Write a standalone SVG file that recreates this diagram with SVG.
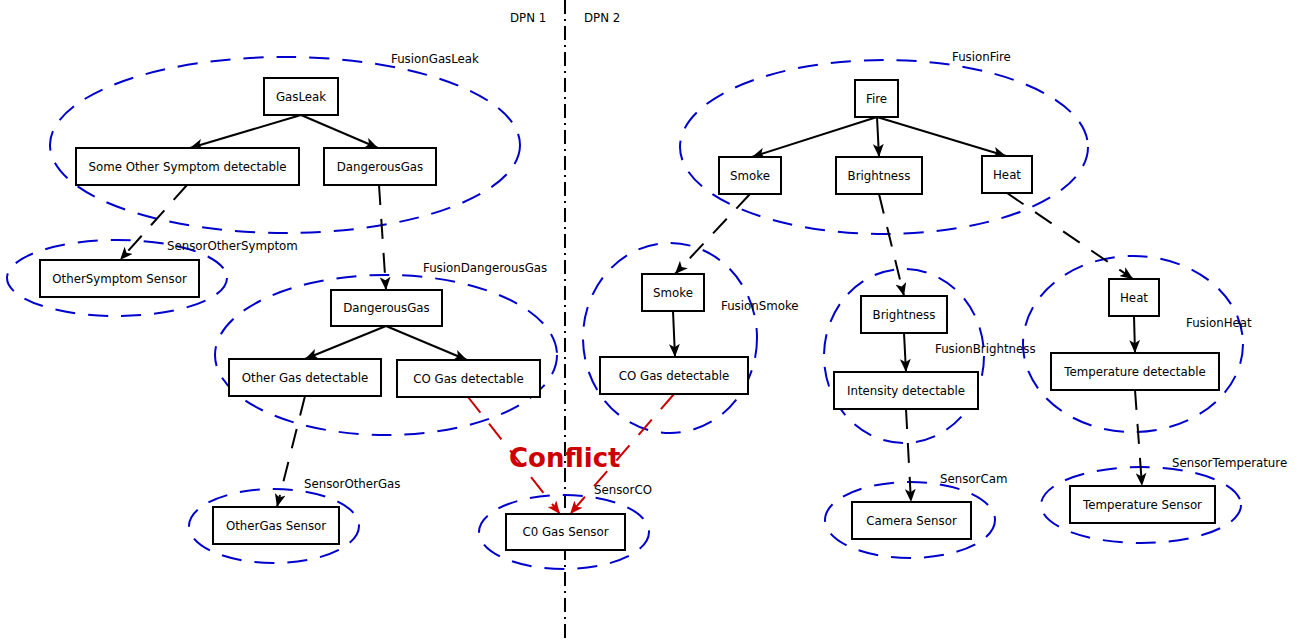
<svg xmlns="http://www.w3.org/2000/svg" width="1303" height="643" viewBox="0 0 1303 643">
<style>
.bg{fill:#ffffff}
.box{fill:#ffffff;stroke:#000;stroke-width:2}
.t{font-family:"DejaVu Sans",sans-serif;font-size:11.8px;fill:#000}
.c{text-anchor:middle}
.ell{fill:none;stroke:#0000cc;stroke-width:2;stroke-dasharray:20,13}
.solid{fill:none;stroke:#000;stroke-width:2;marker-end:url(#ah)}
.dash{fill:none;stroke:#000;stroke-width:2;stroke-dasharray:20,14;marker-end:url(#ah)}
.red{fill:none;stroke:#cc0000;stroke-width:2;stroke-dasharray:20,14;marker-end:url(#ahr)}
.sep{fill:none;stroke:#000;stroke-width:2;stroke-dasharray:14,5,2,5}
</style>
<defs>
<marker id="ah" viewBox="0 0 12 10" refX="12" refY="5" markerWidth="13" markerHeight="11" orient="auto" markerUnits="userSpaceOnUse">
<path d="M0,0 L12,5 L0,10 L3,5 Z" fill="#000"/>
</marker>
<marker id="ahr" viewBox="0 0 12 10" refX="12" refY="5" markerWidth="13" markerHeight="11" orient="auto" markerUnits="userSpaceOnUse">
<path d="M0,0 L12,5 L0,10 L3,5 Z" fill="#cc0000"/>
</marker>
</defs>
<rect class="bg" x="0" y="0" width="1303" height="643"/>
<line class="sep" x1="565" y1="0" x2="565" y2="643"/>
<text class="t" x="510" y="22">DPN 1</text>
<text class="t" x="584" y="22">DPN 2</text>

<g id="clusters">
<ellipse class="ell" cx="285" cy="145" rx="235" ry="88"/>
<text class="t" x="391" y="63">FusionGasLeak</text>
<ellipse class="ell" cx="117" cy="278" rx="110" ry="38"/>
<text class="t" x="167" y="250">SensorOtherSymptom</text>
<ellipse class="ell" cx="386" cy="355" rx="171" ry="80"/>
<text class="t" x="423" y="272">FusionDangerousGas</text>
<ellipse class="ell" cx="274" cy="526" rx="85" ry="37"/>
<text class="t" x="304" y="488">SensorOtherGas</text>
<ellipse class="ell" cx="564" cy="532" rx="85" ry="37"/>
<text class="t" x="594" y="494">SensorCO</text>
<ellipse class="ell" cx="884" cy="147" rx="204" ry="87"/>
<text class="t" x="952" y="61">FusionFire</text>
<ellipse class="ell" cx="670" cy="338" rx="87" ry="95"/>
<text class="t" x="721" y="310">FusionSmoke</text>
<ellipse class="ell" cx="904" cy="356" rx="80" ry="87"/>
<text class="t" x="935" y="353">FusionBrightness</text>
<ellipse class="ell" cx="1133" cy="344" rx="110" ry="88"/>
<text class="t" x="1186" y="327">FusionHeat</text>
<ellipse class="ell" cx="910" cy="520" rx="85" ry="38"/>
<text class="t" x="940" y="483">SensorCam</text>
<ellipse class="ell" cx="1141" cy="505" rx="100" ry="38"/>
<text class="t" x="1172" y="467">SensorTemperature</text>
</g>

<g id="connectors">
<line class="solid" x1="301" y1="115" x2="190" y2="148"/>
<line class="solid" x1="301" y1="115" x2="378" y2="148"/>
<line class="solid" x1="386" y1="326" x2="305" y2="359"/>
<line class="solid" x1="386" y1="326" x2="467" y2="360"/>
<line class="solid" x1="877" y1="117" x2="752" y2="157"/>
<line class="solid" x1="877" y1="117" x2="879" y2="157"/>
<line class="solid" x1="877" y1="117" x2="1006" y2="156"/>
<line class="solid" x1="673" y1="311" x2="675" y2="357"/>
<line class="solid" x1="904" y1="333" x2="906" y2="372"/>
<line class="solid" x1="1134" y1="316" x2="1135" y2="353"/>
<line class="dash" x1="187" y1="185" x2="120" y2="260"/>
<line class="dash" x1="379" y1="185" x2="386" y2="290"/>
<line class="dash" x1="305" y1="396" x2="277" y2="507"/>
<line class="dash" x1="750" y1="194" x2="675" y2="274"/>
<line class="dash" x1="879" y1="194" x2="904" y2="296"/>
<line class="dash" x1="1007" y1="193" x2="1133" y2="279"/>
<line class="dash" x1="906" y1="409" x2="911" y2="502"/>
<line class="dash" x1="1135" y1="390" x2="1142" y2="486"/>
<line class="red" x1="468" y1="397" x2="560" y2="514"/>
<line class="red" x1="674" y1="394" x2="570" y2="514"/>
</g>

<g id="n-gasleak"><rect class="box" x="264" y="78" width="74" height="37"/><text class="t c" x="301" y="100.5">GasLeak</text></g>
<g id="n-someother"><rect class="box" x="76" y="148" width="223" height="37"/><text class="t c" x="187.5" y="170.5">Some Other Symptom detectable</text></g>
<g id="n-dangerous1"><rect class="box" x="324" y="148" width="112" height="37"/><text class="t c" x="380" y="170.5">DangerousGas</text></g>
<g id="n-othersymptomsensor"><rect class="box" x="40" y="260" width="159" height="37"/><text class="t c" x="119.5" y="282.5">OtherSymptom Sensor</text></g>
<g id="n-dangerous2"><rect class="box" x="331" y="290" width="111" height="36"/><text class="t c" x="386.5" y="312">DangerousGas</text></g>
<g id="n-othergas"><rect class="box" x="229" y="359" width="152" height="37"/><text class="t c" x="305" y="381.5">Other Gas detectable</text></g>
<g id="n-cogas1"><rect class="box" x="397" y="360" width="143" height="37"/><text class="t c" x="468.5" y="382.5">CO Gas detectable</text></g>
<g id="n-othergassensor"><rect class="box" x="213" y="507" width="126" height="37"/><text class="t c" x="276" y="529.5">OtherGas Sensor</text></g>
<g id="n-cogassensor"><rect class="box" x="506" y="514" width="119" height="36"/><text class="t c" x="565.5" y="536">C0 Gas Sensor</text></g>
<g id="n-fire"><rect class="box" x="855" y="80" width="43" height="37"/><text class="t c" x="876.5" y="102.5">Fire</text></g>
<g id="n-smoke1"><rect class="box" x="719" y="157" width="62" height="37"/><text class="t c" x="750" y="179.5">Smoke</text></g>
<g id="n-bright1"><rect class="box" x="836" y="157" width="86" height="37"/><text class="t c" x="879" y="179.5">Brightness</text></g>
<g id="n-heat1"><rect class="box" x="982" y="156" width="50" height="37"/><text class="t c" x="1007" y="178.5">Heat</text></g>
<g id="n-smoke2"><rect class="box" x="642" y="274" width="62" height="37"/><text class="t c" x="673" y="296.5">Smoke</text></g>
<g id="n-cogas2"><rect class="box" x="600" y="357" width="148" height="37"/><text class="t c" x="674" y="379.5">CO Gas detectable</text></g>
<g id="n-bright2"><rect class="box" x="861" y="296" width="86" height="37"/><text class="t c" x="904" y="318.5">Brightness</text></g>
<g id="n-intensity"><rect class="box" x="834" y="372" width="144" height="37"/><text class="t c" x="906" y="394.5">Intensity detectable</text></g>
<g id="n-heat2"><rect class="box" x="1109" y="279" width="50" height="37"/><text class="t c" x="1134" y="301.5">Heat</text></g>
<g id="n-tempdet"><rect class="box" x="1051" y="353" width="168" height="37"/><text class="t c" x="1135" y="375.5">Temperature detectable</text></g>
<g id="n-camera"><rect class="box" x="852" y="502" width="119" height="37"/><text class="t c" x="911.5" y="524.5">Camera Sensor</text></g>
<g id="n-tempsensor"><rect class="box" x="1070" y="486" width="145" height="37"/><text class="t c" x="1142.5" y="508.5">Temperature Sensor</text></g>

<text x="509" y="467" font-family="DejaVu Sans, sans-serif" font-size="26" font-weight="bold" fill="#cc0000">Conflict</text>
</svg>
